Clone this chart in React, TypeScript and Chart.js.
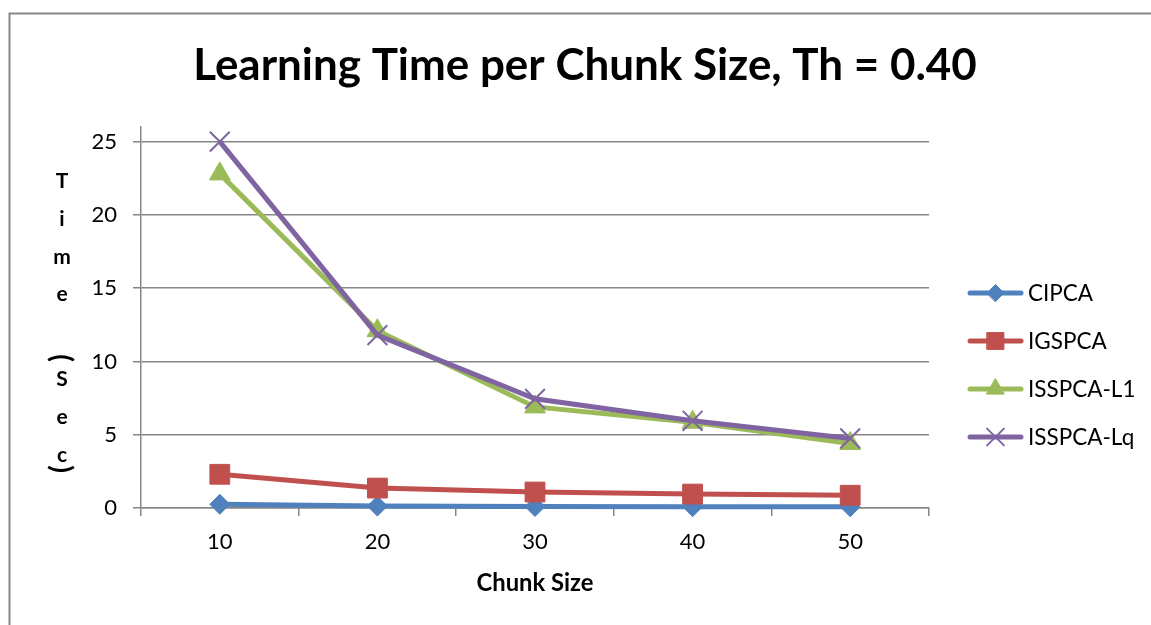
import React, { useEffect, useRef } from "react";
import { Chart, registerables } from "chart.js";
import { drawPoint } from "chart.js/helpers";

Chart.register(...registerables);

const chunkSizes = ["10", "20", "30", "40", "50"];
const seriesNames = ["CIPCA", "IGSPCA", "ISSPCA-L1", "ISSPCA-Lq"];
const cipca = [0.25, 0.13, 0.1, 0.09, 0.08];
const igspca = [2.3, 1.36, 1.09, 0.95, 0.87];
const isspcaL1 = [22.8, 12.1, 6.9, 5.85, 4.4];
const isspcaLq = [25.0, 11.8, 7.45, 5.95, 4.75];
const yTickValues = [0, 5, 10, 15, 20, 25];

const colors = ["#4F81BD", "#C0504D", "#9BBB59", "#8064A2"];
const pointStyles = ["rectRot", "rect", "triangle", "crossRot"];
const pointRadii = [10, 14, 12, 14];

const FONT = "Lato, 'Open Sans', sans-serif";

const decorPlugin = {
  id: "decor",
  beforeDraw(chart: any) {
    const ctx = chart.ctx;
    ctx.save();
    ctx.fillStyle = "#ffffff";
    ctx.fillRect(0, 0, chart.width, chart.height);
    ctx.strokeStyle = "#868686";
    ctx.lineWidth = 2;
    ctx.beginPath();
    ctx.moveTo(9.5, chart.height + 5);
    ctx.lineTo(9.5, 13.5);
    ctx.lineTo(chart.width + 5, 13.5);
    ctx.stroke();
    ctx.restore();
  },
  afterDraw(chart: any) {
    const ctx = chart.ctx;
    ctx.save();
    ctx.fillStyle = "#000";
    // Title
    const title = "Learning Time per Chunk Size, Th = 0.40";
    ctx.font = `bold 40px ${FONT}`;
    let w = ctx.measureText(title).width;
    let size = (40 * 784) / w;
    ctx.font = `bold ${size}px ${FONT}`;
    ctx.textAlign = "center";
    ctx.textBaseline = "alphabetic";
    ctx.fillText(title, 585, 80);

    // X axis title
    const xt = "Chunk Size";
    ctx.font = `bold 20px ${FONT}`;
    w = ctx.measureText(xt).width;
    size = (20 * 117) / w;
    ctx.font = `bold ${size}px ${FONT}`;
    const area = chart.chartArea;
    ctx.fillText(xt, (area.left + area.right) / 2, 591);

    // Y axis title stacked
    ctx.font = `bold 21px ${FONT}`;
    const letters: [string, number][] = [
      ["T", 188],
      ["i", 226],
      ["m", 264],
      ["e", 301],
      ["S", 386],
      ["e", 424],
      ["c", 462],
    ];
    letters.forEach(([ch, y]) => ctx.fillText(ch, 62, y));
    const parens: [string, number][] = [
      ["(", 358],
      [")", 469],
    ];
    ctx.textBaseline = "middle";
    parens.forEach(([ch, y]) => {
      ctx.save();
      ctx.translate(61, y);
      ctx.rotate(Math.PI / 2);
      ctx.font = `bold 28px ${FONT}`;
      ctx.fillText(ch, 0, 0);
      ctx.restore();
    });

    // Legend
    const legendY = [293, 341, 389, 437];
    chart.data.datasets.forEach((ds: any, i: number) => {
      const y = legendY[i];
      ctx.strokeStyle = ds.borderColor;
      ctx.lineWidth = 5;
      ctx.lineCap = "round";
      ctx.beginPath();
      ctx.moveTo(970, y);
      ctx.lineTo(1021, y);
      ctx.stroke();
      ctx.fillStyle = ds.pointBackgroundColor;
      ctx.strokeStyle = ds.pointBorderColor;
      ctx.lineWidth = ds.pointBorderWidth;
      drawPoint(ctx, { pointStyle: ds.pointStyle, radius: ds.pointRadius * 0.85, borderWidth: ds.pointBorderWidth, rotation: 0 }, 995.5, y);
      ctx.fillStyle = "#000";
      ctx.font = `22.5px ${FONT}`;
      ctx.textAlign = "left";
      ctx.textBaseline = "middle";
      ctx.fillText(ds.label, 1028, y + 1);
    });
    ctx.restore();
  },
};

export default function App() {
  const ref = useRef<HTMLCanvasElement | null>(null);
  useEffect(() => {
    if (!ref.current) return;
    const values = [cipca, igspca, isspcaL1, isspcaLq];
    const chart = new Chart(ref.current, {
      type: "line",
      data: {
        labels: chunkSizes,
        datasets: seriesNames.map((name, i) => ({
          label: name,
          data: values[i],
          borderColor: colors[i],
          backgroundColor: colors[i],
          borderWidth: 5,
          tension: 0,
          clip: false,
          pointStyle: pointStyles[i],
          pointRadius: pointRadii[i],
          pointHoverRadius: pointRadii[i],
          pointBackgroundColor: colors[i],
          pointBorderColor: colors[i],
          pointBorderWidth: i === 3 ? 2 : 1,
          order: 3 - i,
        })),
      },
      options: {
        responsive: false,
        animation: false,
        devicePixelRatio: 1,
        layout: { padding: { top: 127, right: 222, left: 0, bottom: 0 } },
        plugins: {
          legend: { display: false },
          title: { display: false },
          tooltip: { enabled: false },
        },
        scales: {
          x: {
            type: "category",
            offset: true,
            afterFit(scale: any) {
              scale.height = 117;
            },
            grid: {
              offset: true,
              drawOnChartArea: false,
              drawTicks: true,
              tickLength: 8,
              color: "#868686",
              lineWidth: 1.5,
            },
            border: { color: "#868686", width: 1.5 },
            ticks: {
              color: "#000",
              font: { family: FONT, size: 22 },
              padding: 13,
              maxRotation: 0,
            },
          },
          y: {
            type: "linear",
            min: 0,
            max: 26,
            afterFit(scale: any) {
              scale.width = 141;
            },
            afterBuildTicks(scale: any) {
              scale.ticks = yTickValues.map((v) => ({ value: v }));
            },
            grid: {
              drawTicks: true,
              tickLength: 8,
              color: "#868686",
              lineWidth: 1.5,
            },
            border: { color: "#868686", width: 1.5 },
            ticks: {
              color: "#000",
              font: { family: FONT, size: 22 },
              padding: 16,
            },
          },
        },
      },
      plugins: [decorPlugin],
    });
    return () => chart.destroy();
  }, []);
  return (
    <div style={{ position: "absolute", left: 0, top: 0, width: 1151, height: 625 }}>
      <canvas ref={ref} width={1151} height={625} style={{ display: "block" }} />
    </div>
  );
}
